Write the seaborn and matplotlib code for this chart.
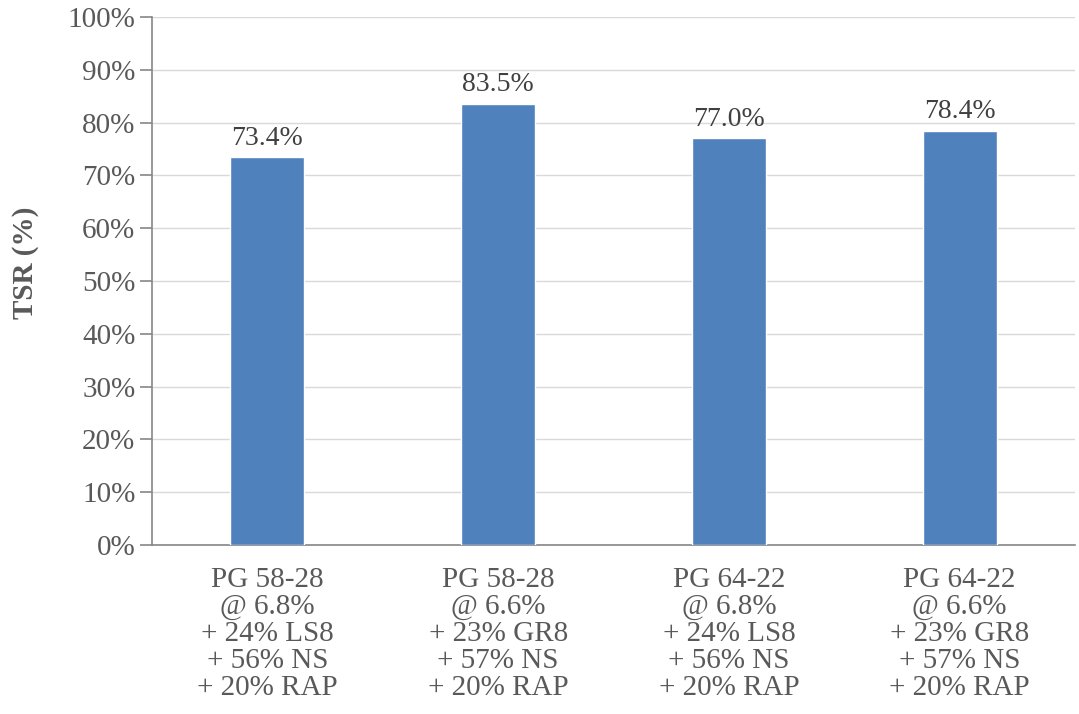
import matplotlib
matplotlib.use("Agg")
import matplotlib.pyplot as plt
import seaborn as sns
import pandas as pd

# Mixture labels and tensile strength ratio values
mixes = [
    "PG 58-28\n@ 6.8%\n+ 24% LS8\n+ 56% NS\n+ 20% RAP",
    "PG 58-28\n@ 6.6%\n+ 23% GR8\n+ 57% NS\n+ 20% RAP",
    "PG 64-22\n@ 6.8%\n+ 24% LS8\n+ 56% NS\n+ 20% RAP",
    "PG 64-22\n@ 6.6%\n+ 23% GR8\n+ 57% NS\n+ 20% RAP",
]
tsr = [73.4, 83.5, 77.0, 78.4]
y_ticks = list(range(0, 101, 10))

sns.set_theme(style="white")
plt.rcParams["font.family"] = ["Liberation Serif", "DejaVu Serif"]

text_color = "#595959"
df = pd.DataFrame({"mix": mixes, "tsr": tsr})

fig = plt.figure(figsize=(10.79, 7.14), dpi=100)
ax = fig.add_axes([0.1409, 0.2367, 0.8554, 0.7395])

sns.barplot(data=df, x="mix", y="tsr", color="#4F81BD", saturation=1,
            width=0.32, ax=ax, zorder=3)

ax.set_ylim(0, 100)
ax.set_xlim(-0.5, len(mixes) - 0.5)
ax.set_yticks(y_ticks)
ax.set_yticklabels([f"{v}%" for v in y_ticks])
ax.yaxis.grid(True, color="#D9D9D9", linewidth=1.0, zorder=0)
ax.set_axisbelow(True)

for side in ["top", "right"]:
    ax.spines[side].set_visible(False)
for side in ["left", "bottom"]:
    ax.spines[side].set_color("#868686")
    ax.spines[side].set_linewidth(1.2)

ax.tick_params(axis="y", which="both", left=True, length=9, width=1.2,
               color="#868686", labelsize=21, labelcolor=text_color, pad=3)
ax.tick_params(axis="x", bottom=False, labelsize=21, labelcolor=text_color, pad=10)
for lbl in ax.get_xticklabels():
    lbl.set_linespacing(1.05)

ax.set_xlabel("")
ax.set_ylabel("TSR (%)", fontsize=21, fontweight="bold", color=text_color)
ax.yaxis.set_label_coords(-0.122, 0.535)

for i, v in enumerate(tsr):
    ax.text(i, v + 1.3, f"{v:.1f}%", ha="center", va="bottom",
            fontsize=20, color="#404040")

fig.savefig("out.png", dpi=100)
